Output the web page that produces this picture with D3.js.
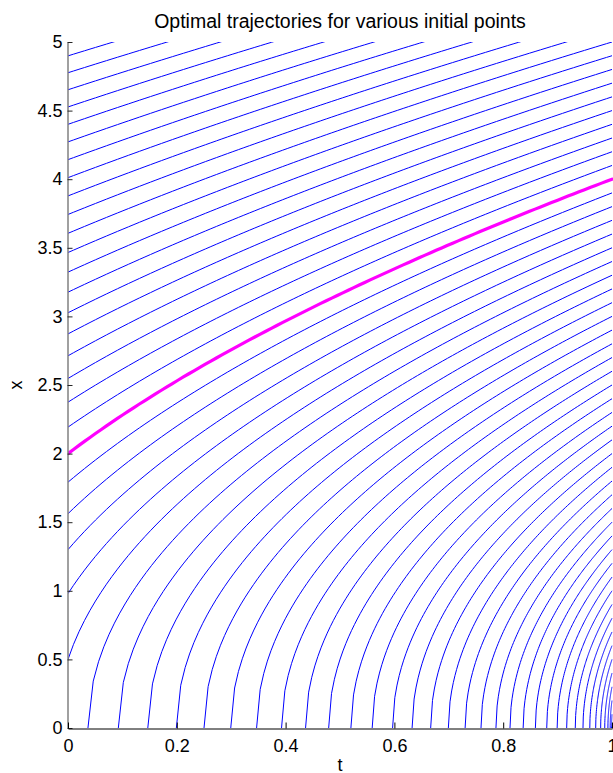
<!DOCTYPE html>
<html>
<head>
<meta charset="utf-8">
<script src="https://cdn.jsdelivr.net/npm/d3@7/dist/d3.min.js"></script>
<style>
  html, body { margin: 0; padding: 0; background: #fff; }
  svg { display: block; }
  text { font-family: "Liberation Sans", Arial, Helvetica, sans-serif; fill: #000; }
</style>
</head>
<body>
<svg id="chart" width="613" height="773"></svg>
<script>
// ---- data ----
const chartTitle = "Optimal trajectories for various initial points";
const xAxisLabel = "t";
const yAxisLabel = "x";
const tTickValues = [0, 0.2, 0.4, 0.6, 0.8, 1];
const xTickValues = [0, 0.5, 1, 1.5, 2, 2.5, 3, 3.5, 4, 4.5, 5];
// value of x reached at t = 1 by each blue trajectory
const finalValues = [0.0, 0.1, 0.2, 0.3, 0.4, 0.5, 0.6, 0.7, 0.8, 0.9,
                     1.0, 1.1, 1.2, 1.3, 1.4, 1.5, 1.6, 1.7, 1.8, 1.9,
                     2.0, 2.1, 2.2, 2.3, 2.4, 2.5, 2.6, 2.7, 2.8, 2.9,
                     3.0, 3.1, 3.2, 3.3, 3.4, 3.5, 3.6, 3.7, 3.8, 3.9,
                     4.0, 4.1, 4.2, 4.3, 4.4, 4.5, 4.6, 4.7, 4.8, 4.9,
                     5.0, 5.1, 5.2, 5.3, 5.4, 5.5, 5.6, 5.7, 5.8, 5.9, 6.0];
// highlighted optimal trajectory: initial point (t, x)
const highlightInitial = [0, 2];
// optimal dynamics x * dx/dt = rate / 2  (rate: 2 -> 4)
const rate = 12;
const samplesPerTrajectory = 100;

// ---- layout ----
const svg = d3.select("#chart");
const mLeft = 68, mRight = 612, mTop = 42, mBottom = 728;

const tScale = d3.scaleLinear().domain([0, 1]).range([mLeft, mRight]);
const xScale = d3.scaleLinear().domain([0, 5]).range([mBottom, mTop]);

svg.append("defs").append("clipPath").attr("id", "plotclip")
  .append("rect").attr("x", mLeft).attr("y", mTop)
  .attr("width", mRight - mLeft + 1).attr("height", mBottom - mTop);

function trajectory(xf) {
  const tStart = Math.max(0, 1 - xf * xf / rate);
  const pts = [];
  for (let i = 0; i < samplesPerTrajectory; i++) {
    const t = tStart + i * (1 - tStart) / (samplesPerTrajectory - 1);
    const v = xf * xf - rate * (1 - t);
    pts.push([t, Math.sqrt(Math.max(0, v))]);
  }
  return pts;
}
function trajectoryFrom(t0, x0) {
  const pts = [];
  for (let i = 0; i < samplesPerTrajectory; i++) {
    const t = t0 + i * (1 - t0) / (samplesPerTrajectory - 1);
    const v = x0 * x0 + rate * (t - t0);
    pts.push([t, Math.sqrt(Math.max(0, v))]);
  }
  return pts;
}

const line = d3.line().x(d => tScale(d[0])).y(d => xScale(d[1]));

const plot = svg.append("g").attr("clip-path", "url(#plotclip)");
plot.selectAll("path.traj")
  .data(finalValues.filter(v => v > 0))
  .enter().append("path")
  .attr("class", "traj")
  .attr("d", d => line(trajectory(d)))
  .attr("fill", "none")
  .attr("stroke", "#0000ff")
  .attr("stroke-width", 1);

plot.append("path")
  .attr("d", line(trajectoryFrom(highlightInitial[0], highlightInitial[1])))
  .attr("fill", "none")
  .attr("stroke", "#ff00ff")
  .attr("stroke-width", 3.2)
  .attr("stroke-linecap", "round");

// ---- axes ----
const yAxis = d3.axisLeft(xScale)
  .tickValues(xTickValues)
  .tickFormat(d3.format(""))
  .tickSizeInner(-5).tickSizeOuter(0).tickPadding(5);
const gy = svg.append("g").attr("transform", `translate(${mLeft - 0.5},0)`).call(yAxis);
gy.select(".domain").attr("stroke", "#808080").attr("stroke-width", 1.5);
gy.selectAll(".tick line").attr("stroke", "#262626");
gy.selectAll(".tick text").attr("font-size", 18).attr("font-family", "Liberation Sans, Arial, sans-serif").attr("fill", "#000");

const xAxis = d3.axisBottom(tScale)
  .tickValues(tTickValues)
  .tickFormat(d3.format(""))
  .tickSizeInner(-6).tickSizeOuter(0).tickPadding(11);
const gx = svg.append("g").attr("transform", `translate(0,${mBottom + 0.5})`).call(xAxis);
gx.select(".domain").attr("stroke", "#000").attr("stroke-width", 1);
gx.selectAll(".tick line").attr("stroke", "#000");
gx.selectAll(".tick text").attr("font-size", 18).attr("font-family", "Liberation Sans, Arial, sans-serif").attr("fill", "#000");

// ---- labels ----
svg.append("text")
  .attr("x", (mLeft + mRight) / 2).attr("y", 28)
  .attr("text-anchor", "middle")
  .attr("font-size", 19.5)
  .text(chartTitle);

svg.append("text")
  .attr("x", (mLeft + mRight) / 2).attr("y", 771)
  .attr("text-anchor", "middle")
  .attr("font-size", 18)
  .text(xAxisLabel);

svg.append("text")
  .attr("transform", `translate(22,${(mTop + mBottom) / 2}) rotate(-90)`)
  .attr("text-anchor", "middle")
  .attr("font-size", 18)
  .text(yAxisLabel);
</script>
</body>
</html>
